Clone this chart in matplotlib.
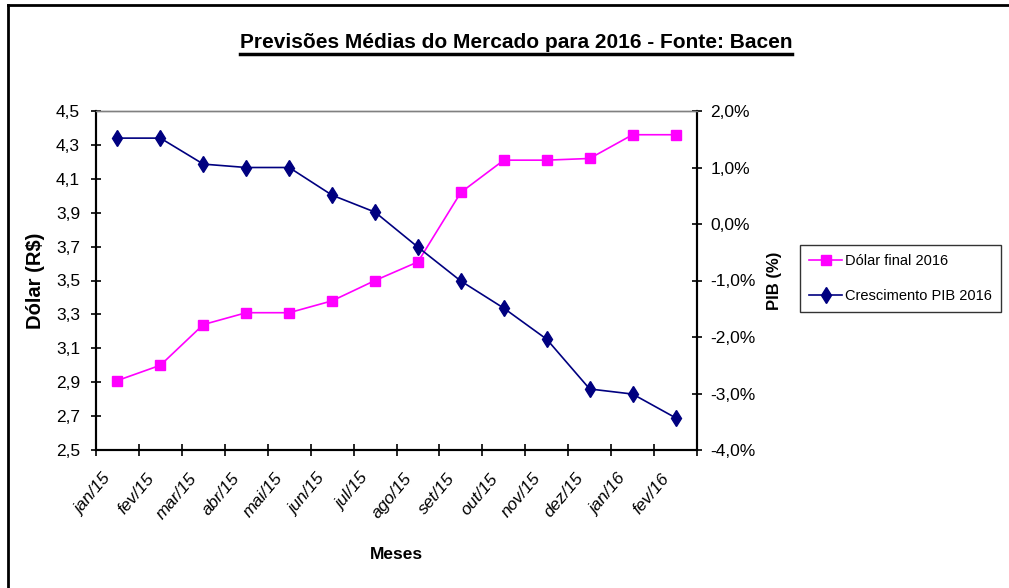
import matplotlib.pyplot as plt
from matplotlib.lines import Line2D

meses = ["jan/15", "fev/15", "mar/15", "abr/15", "mai/15", "jun/15", "jul/15",
         "ago/15", "set/15", "out/15", "nov/15", "dez/15", "jan/16", "fev/16"]
dolar = [2.91, 3.00, 3.24, 3.31, 3.31, 3.38, 3.50, 3.61, 4.02, 4.21, 4.21, 4.22, 4.36, 4.36]
pib = [1.52, 1.52, 1.06, 1.00, 1.00, 0.51, 0.21, -0.41, -1.01, -1.49, -2.04, -2.92, -3.01, -3.43]

left_ticks = [2.5, 2.7, 2.9, 3.1, 3.3, 3.5, 3.7, 3.9, 4.1, 4.3, 4.5]
right_ticks = [-4, -3, -2, -1, 0, 1, 2]

plt.rcParams['font.family'] = ['Liberation Sans', 'DejaVu Sans']

W, H = 1009, 588
fig = plt.figure(figsize=(W / 100, H / 100), dpi=100)
ax = fig.add_axes([96 / W, 1 - 450 / H, (697 - 96) / W, (450 - 111) / H])
ax2 = ax.twinx()

x = list(range(len(meses)))
l1, = ax.plot(x, dolar, color='#FF00FF', marker='s', ms=7, lw=1.2, label='Dólar final 2016')
l2, = ax2.plot(x, pib, color='#000080', marker='d', ms=8, lw=1.2, label='Crescimento PIB 2016')

ax.set_xlim(-0.5, len(meses) - 0.5)
ax.set_ylim(2.5, 4.5)
ax2.set_ylim(-4, 2)

# month labels sit a little left of each category centre (Excel style)
ax.set_xticks([i - 0.35 for i in x])
ax.set_xticklabels(meses, rotation=50, ha='right', rotation_mode='anchor',
                   fontsize=12.5, style='italic')
ax.set_xticks([i - 0.5 for i in range(len(meses) + 1)], minor=True)
ax.tick_params(axis='x', which='major', length=0, pad=15)
ax.tick_params(axis='x', which='minor', length=8, direction='inout', width=1.2)

ax.set_yticks(left_ticks)
ax.set_yticklabels([f"{v:.1f}".replace('.', ',') for v in left_ticks], fontsize=12.5)
ax.tick_params(axis='y', length=7, direction='inout', width=1.2, pad=8)

ax2.set_yticks(right_ticks)
ax2.set_yticklabels([f"{v:.1f}%".replace('.', ',') for v in right_ticks], fontsize=12.5)
ax2.tick_params(axis='y', length=7, direction='inout', width=1.2, pad=6)

for a in (ax, ax2):
    for s in ('left', 'right', 'bottom'):
        a.spines[s].set_linewidth(1.5)
    a.spines['top'].set_color('#808080')
    a.spines['top'].set_linewidth(1)

ax.set_xlabel('Meses', fontsize=12.5, fontweight='bold', labelpad=18)
ax.set_ylabel('Dólar (R$)', fontsize=14.5, fontweight='bold', labelpad=8)
ax2.set_ylabel('PIB (%)', fontsize=12, fontweight='bold', labelpad=8)

title = fig.text(516 / W, 1 - 42 / H, 'Previsões Médias do Mercado para 2016 - Fonte: Bacen',
                 ha='center', va='center', fontsize=15, fontweight='bold')

leg = fig.legend(handles=[l1, l2], loc='upper left', bbox_to_anchor=(800 / W, 1 - 245 / H),
                 fontsize=10.5, frameon=True, fancybox=False, edgecolor='black',
                 handlelength=2.3, borderpad=0.6, labelspacing=1.45, handletextpad=0.2,
                 borderaxespad=0)
leg.get_frame().set_linewidth(1)

# underline the title
fig.canvas.draw()
bb = title.get_window_extent().transformed(fig.transFigure.inverted())
fig.add_artist(Line2D([bb.x0, bb.x1], [bb.y0 - 0.004, bb.y0 - 0.004], color='black', lw=2.5))

# outer border (top and left only visible)
fig.add_artist(Line2D([8 / W, 1], [1 - 5 / H, 1 - 5 / H], color='black', lw=2))
fig.add_artist(Line2D([8 / W, 8 / W], [0, 1 - 5 / H], color='black', lw=2))

fig.savefig('out.png', dpi=100)
